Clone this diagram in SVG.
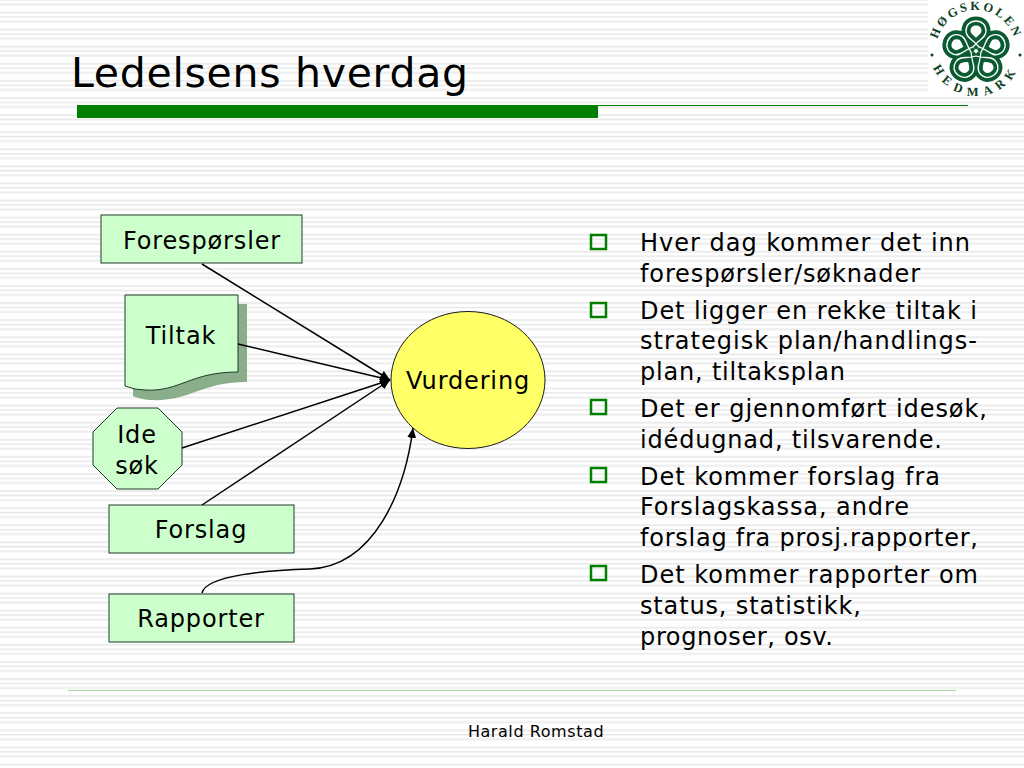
<svg xmlns="http://www.w3.org/2000/svg" xmlns:xlink="http://www.w3.org/1999/xlink" width="1024" height="768" viewBox="0 0 1024 768">
<style>
text{font-family:"DejaVu Sans",Verdana,sans-serif;fill:#000}
.n{fill:#ccffcc;stroke:#1f3a2a;stroke-width:1}
.l{font-size:24px;text-anchor:middle;letter-spacing:.85px}
.b{font-size:24px}
.c{fill:none;stroke:#000;stroke-width:1.5}
.sq{fill:none;stroke:#008000;stroke-width:2.5}
.logo{font-family:"Liberation Serif",serif;font-weight:bold;font-size:12.5px;fill:#0c3f26}
.k{fill:none;stroke:#0a5a32;stroke-width:9}
.kw{fill:none;stroke:#fff;stroke-width:1.300}
</style>
<defs>
<pattern id="st" width="10" height="17.09" patternUnits="userSpaceOnUse" patternTransform="translate(0 11.5)"><rect width="10" height="17.09" fill="#fff"/><rect y="0" width="10" height="2" fill="#ececec"/><rect y="5" width="10" height="1" fill="#dcdcdc"/><rect y="9" width="10" height="2" fill="#ececec"/></pattern>
<marker id="ah" markerWidth="11" markerHeight="10" refX="10" refY="4.500" orient="auto" markerUnits="userSpaceOnUse"><path d="M0 0L10 4.500L0 9Z" fill="#000"/></marker>
<path id="top" d="M936 50A40 40 0 0 1 1016 50"/>
<path id="bot" d="M930 50A46 46 0 0 0 1022 50"/>
<path id="pet" d="M3-4C-3-12-10-13-10-20C-10-26-6-30 0-30C6-30 10-26 10-20C10-13 3-12-3-4"/>
</defs>
<rect width="1024" height="768" fill="url(#st)"/>
<g id="title"><text x="71" y="87" font-size="41" textLength="397">Ledelsens hverdag</text>
<rect x="77" y="105" width="521" height="13" fill="#008000"/>
<rect x="598" y="105" width="370" height="1" fill="#008000"/></g>
<g id="logo"><rect x="928" y="0" width="96" height="97" fill="#fff"/>
<text class="logo"><textPath xlink:href="#top" startOffset="50%" text-anchor="middle" letter-spacing="2.500">HØGSKOLEN</textPath></text>
<text class="logo"><textPath xlink:href="#bot" startOffset="50%" text-anchor="middle" letter-spacing="6">HEDMARK</textPath></text>
<circle cx="932" cy="55" r="1.500" fill="#0c3f26"/><circle cx="1020" cy="55" r="1.500" fill="#0c3f26"/>
<g transform="translate(976 51)">
<g class="k"><use xlink:href="#pet"/><use xlink:href="#pet" transform="rotate(-72)"/><use xlink:href="#pet" transform="rotate(-144)"/><use xlink:href="#pet" transform="rotate(-216)"/><use xlink:href="#pet" transform="rotate(-288)"/></g>
<g class="kw"><use xlink:href="#pet"/><use xlink:href="#pet" transform="rotate(-72)"/><use xlink:href="#pet" transform="rotate(-144)"/><use xlink:href="#pet" transform="rotate(-216)"/><use xlink:href="#pet" transform="rotate(-288)"/></g>
<circle r="1.800" fill="#fff"/></g>
</g>
<g id="foresporsler"><rect class="n" x="101" y="215" width="201" height="48"/><text class="l" x="202" y="249">Forespørsler</text></g>
<g id="tiltak"><path d="M133 304H247V382C200 382 190 402 150 400Q140 399 133 396Z" fill="#8aad8a"/><path class="n" d="M125 295H238V372C190 372 180 392 145 390Q135 390 125 386Z"/><text class="l" x="181" y="344">Tiltak</text></g>
<g id="idesok"><path class="n" d="M117 408H158L182 432V465L158 489H117L93 465V432Z"/><text class="l" x="137" y="443">Ide</text><text class="l" x="137" y="474">søk</text></g>
<g id="forslag"><rect class="n" x="109" y="505" width="185" height="48"/><text class="l" x="201" y="538">Forslag</text></g>
<g id="rapporter"><rect class="n" x="109" y="594" width="185" height="48"/><text class="l" x="201" y="627">Rapporter</text></g>
<g id="vurdering"><ellipse cx="468" cy="380" rx="77" ry="68.500" fill="#ffff66" stroke="#1a1a1a"/><text class="l" x="468" y="389">Vurdering</text></g>
<g id="connectors">
<path class="c" d="M202 264L390 380" marker-end="url(#ah)"/>
<path class="c" d="M238 344L390 380" marker-end="url(#ah)"/>
<path class="c" d="M182 448L390 380" marker-end="url(#ah)"/>
<path class="c" d="M202 505L390 380" marker-end="url(#ah)"/>
<path class="c" d="M202 593C206 575 270 570 310 569C375 566 405 490 413 428" marker-end="url(#ah)"/>
</g>
<g id="bullets">
<rect class="sq" x="591" y="235" width="15" height="14"/><rect class="sq" x="591" y="303" width="15" height="14"/><rect class="sq" x="591" y="400" width="15" height="14"/><rect class="sq" x="591" y="468" width="15" height="14"/><rect class="sq" x="591" y="566" width="15" height="14"/>
<text class="b" x="640" y="251" textLength="330">Hver dag kommer det inn</text>
<text class="b" x="640" y="282" textLength="280">forespørsler/søknader</text>
<text class="b" x="640" y="319" textLength="337">Det ligger en rekke tiltak i</text>
<text class="b" x="640" y="349" textLength="337">strategisk plan/handlings-</text>
<text class="b" x="640" y="380" textLength="205">plan, tiltaksplan</text>
<text class="b" x="640" y="417" textLength="347">Det er gjennomført idesøk,</text>
<text class="b" x="640" y="448" textLength="302">idédugnad, tilsvarende.</text>
<text class="b" x="640" y="485" textLength="300">Det kommer forslag fra</text>
<text class="b" x="640" y="515" textLength="269">Forslagskassa, andre</text>
<text class="b" x="640" y="546" textLength="338">forslag fra prosj.rapporter,</text>
<text class="b" x="640" y="583" textLength="338">Det kommer rapporter om</text>
<text class="b" x="640" y="614" textLength="221">status, statistikk,</text>
<text class="b" x="640" y="645" textLength="193">prognoser, osv.</text>
</g>
<g id="footer"><rect x="68" y="690" width="888" height="1" fill="#a6d8a6"/><text x="536" y="737" font-size="16" text-anchor="middle" letter-spacing=".57">Harald Romstad</text></g>
</svg>
